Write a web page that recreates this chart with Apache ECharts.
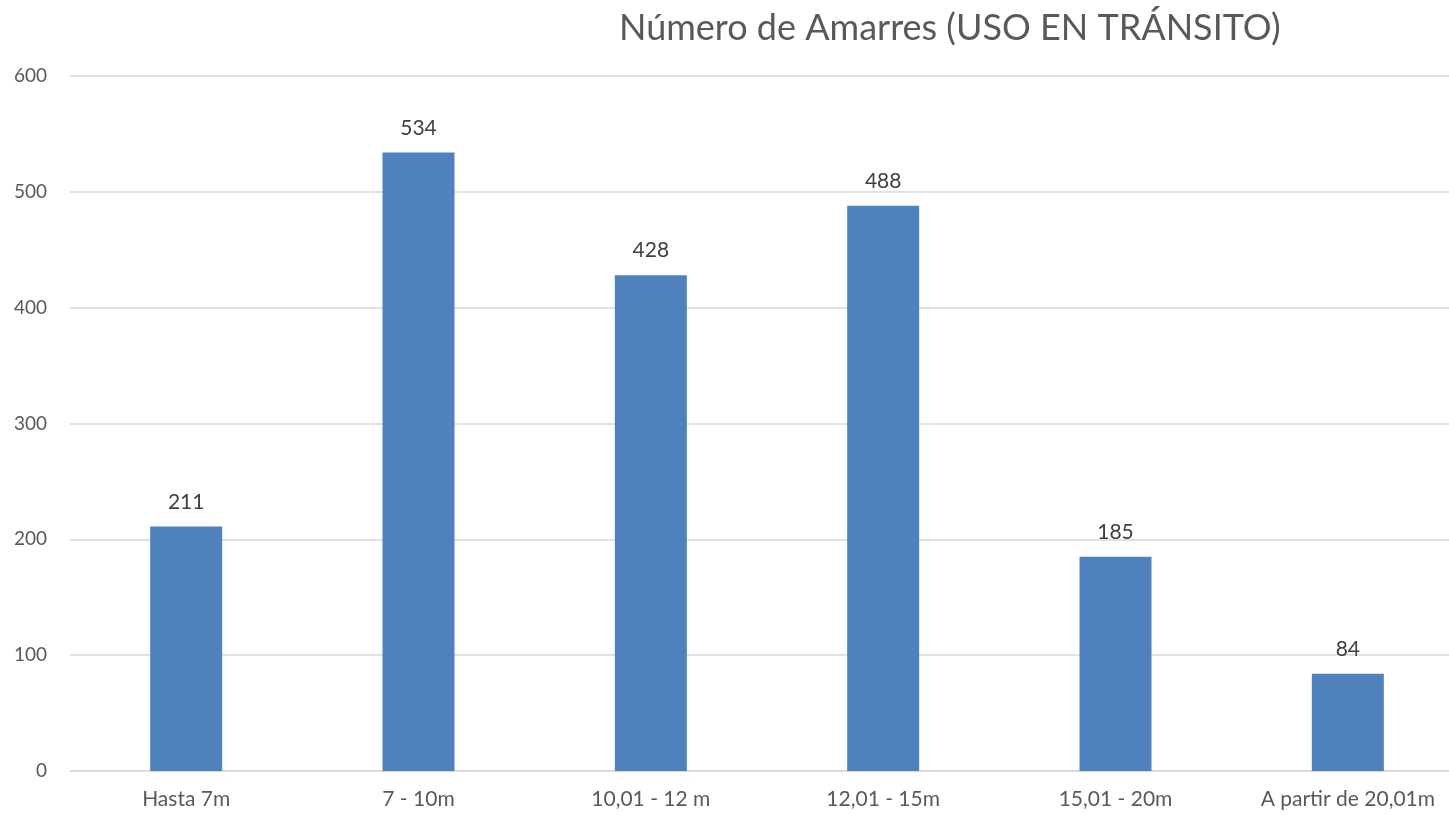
<!DOCTYPE html>
<html><head><meta charset="utf-8">
<script src="https://cdn.jsdelivr.net/npm/echarts@6/dist/echarts.min.js"></script>
<style>html,body{margin:0;padding:0;background:#fff;overflow:hidden}#c{width:1464px;height:815px}</style>
</head><body><div id="c"></div>
<script>
const categories = ['Hasta 7m', '7 - 10m', '10,01 - 12 m', '12,01 - 15m', '15,01 - 20m', 'A partir de 20,01m'];
const values = [211, 534, 428, 488, 185, 84];
const yTicks = [0, 100, 200, 300, 400, 500, 600];
const titleText = 'Número de Amarres (USO EN TRÁNSITO)';

const chart = echarts.init(document.getElementById('c'));
chart.setOption({
  animation: false,
  title: {
    text: titleText, left: 614, top: 5,
    textStyle: {fontFamily: 'Lato', fontWeight: 'normal', fontSize: 36, color: '#595959'}
  },
  grid: {left: 70, right: 0, top: 76, bottom: 44, containLabel: false},
  xAxis: {
    type: 'category', data: categories,
    axisLine: {show: true, lineStyle: {color: '#D9D9D9', width: 1.5}},
    axisTick: {show: false},
    axisLabel: {fontFamily: 'Lato', fontSize: 21, color: '#595959', margin: 18}
  },
  yAxis: {
    type: 'value', min: yTicks[0], max: yTicks[yTicks.length - 1], interval: 100,
    axisLine: {show: false}, axisTick: {show: false},
    axisLabel: {fontFamily: 'Lato', fontSize: 19, color: '#595959', margin: 23},
    splitLine: {lineStyle: {color: '#D9D9D9', width: 1.5}}
  },
  series: [{
    type: 'bar', data: values, barWidth: 72,
    itemStyle: {color: '#4F81BD'},
    label: {show: true, position: 'top', distance: 14, fontFamily: 'Lato', fontSize: 21, color: '#404040'}
  }]
});
</script></body></html>
